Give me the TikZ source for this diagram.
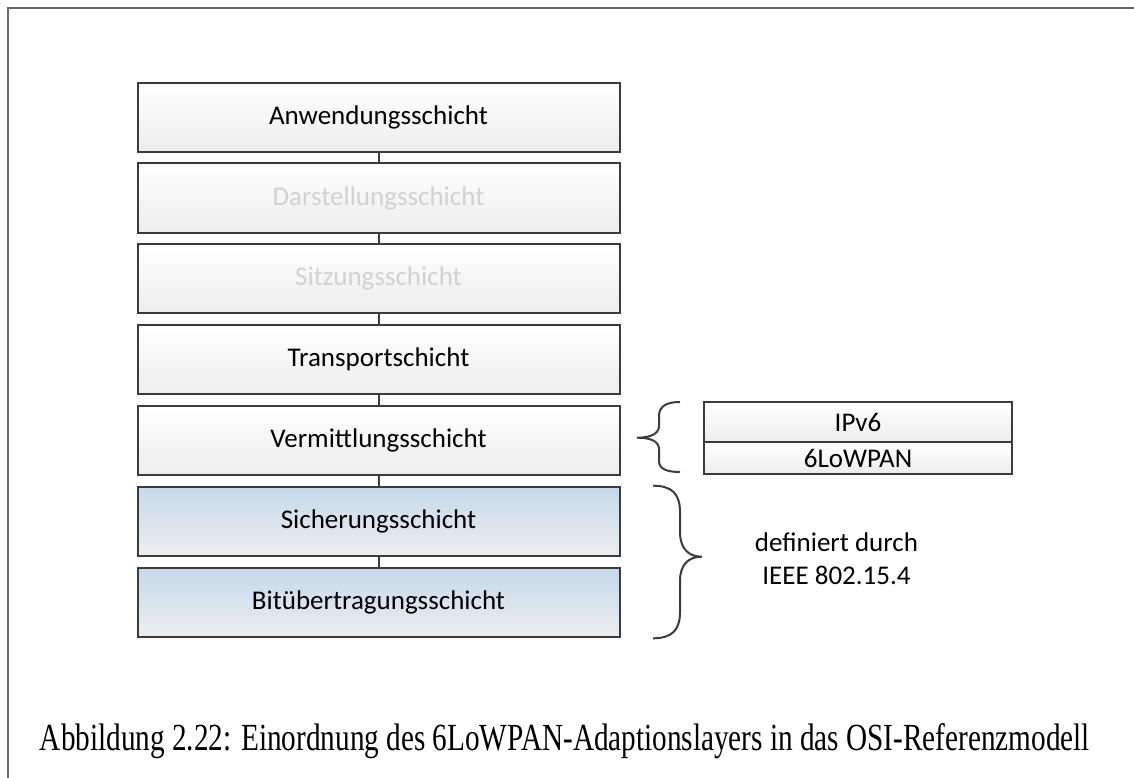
\documentclass[tikz,border=0pt]{standalone}
\usepackage{fontspec}
\usepackage{graphicx}
\setmainfont{Liberation Serif}
\newfontfamily\boxfont{Carlito}

\definecolor{edgegray}{HTML}{3C3C3C}
\definecolor{framegray}{HTML}{6A6A6A}
\definecolor{fillbottom}{HTML}{EDEDED}
\definecolor{bluetop}{HTML}{C6D9EA}
\definecolor{bluebottom}{HTML}{ECEEF0}
\definecolor{fadedtext}{HTML}{D2D2D2}

\begin{document}
\begin{tikzpicture}[x=1pt,y=-1pt,
  layer/.style={draw=edgegray, line width=2pt, minimum width=482pt,
    minimum height=69pt, inner sep=0pt, top color=white,
    bottom color=fillbottom, font=\boxfont\fontsize{27}{32}\selectfont},
  bluelayer/.style={layer, top color=bluetop, bottom color=bluebottom},
  faded/.style={text=fadedtext},
  sublayer/.style={draw=edgegray, line width=2pt, minimum width=308pt,
    inner sep=0pt, top color=white, bottom color=fillbottom,
    font=\boxfont\fontsize{27}{32}\selectfont},
  conn/.style={draw=edgegray, line width=2pt},
  brace/.style={draw=edgegray, line width=2pt},
  frameline/.style={draw=framegray, line width=2pt}
]
\useasboundingbox (0,0) rectangle (1134,778);

% outer frame (open to the right and bottom)
\draw[frameline] (8,790) -- (8,8) -- (1150,8);

% OSI layer stack
\node[layer]          (l7) at (378.5,117.2) {Anwendungsschicht};
\node[layer, faded]   (l6) at (378.5,198.0) {Darstellungsschicht};
\node[layer, faded]   (l5) at (378.5,278.8) {Sitzungsschicht};
\node[layer]          (l4) at (378.5,359.6) {Transportschicht};
\node[layer]          (l3) at (378.5,440.4) {Vermittlungsschicht};
\node[bluelayer]      (l2) at (378.5,521.2) {Sicherungsschicht};
\node[bluelayer]      (l1) at (378.5,602.3) {Bitübertragungsschicht};

\draw[conn] (l7.south) -- (l6.north);
\draw[conn] (l6.south) -- (l5.north);
\draw[conn] (l5.south) -- (l4.north);
\draw[conn] (l4.south) -- (l3.north);
\draw[conn] (l3.south) -- (l2.north);
\draw[conn] (l2.south) -- (l1.north);

% network layer detail
\node[sublayer, minimum height=40pt] (ipv6)   at (858,422.3) {IPv6};
\node[sublayer, minimum height=31.7pt] (lowpan) at (858,458.2) {6LoWPAN};

% brace towards the network layer detail
\draw[brace] (680,402) .. controls (667,402) and (659,406) .. (659,416)
  -- (659,426) .. controls (659,434) and (650,437.7) .. (637,437.7)
  .. controls (650,437.7) and (659,441) .. (659,449)
  -- (659,461) .. controls (659,469) and (667,472) .. (680,472);

% brace spanning the IEEE 802.15.4 layers
\draw[brace] (653,485.7) .. controls (672,485.7) and (680,494) .. (680,512)
  -- (680,532) .. controls (680,548) and (688,556.7) .. (701.7,556.7)
  .. controls (688,556.7) and (680,565) .. (680,581)
  -- (680,612) .. controls (680,630) and (672,638.3) .. (653,638.3);

\node[font=\boxfont\fontsize{27}{33}\selectfont, align=center] (ieee)
  at (836.5,559) {definiert durch\\IEEE 802.15.4};

% caption
\node[anchor=base, inner sep=0pt] (caption) at (565,750)
  {\resizebox{1050pt}{27pt}{Abbildung 2.22: Einordnung des 6LoWPAN-Adaptionslayers in das OSI-Referenzmodell}};
\end{tikzpicture}
\end{document}
